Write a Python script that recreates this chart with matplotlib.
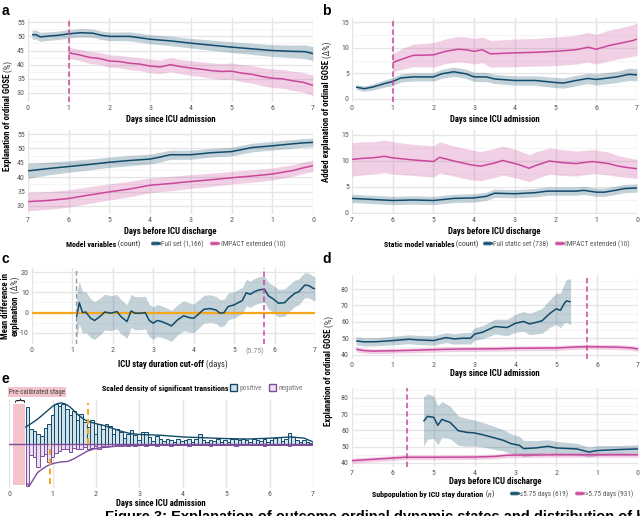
import matplotlib
matplotlib.use('Agg')
import matplotlib.pyplot as plt
import numpy as np
from matplotlib import font_manager as fm
from matplotlib.lines import Line2D
from matplotlib.patches import Patch
from matplotlib.text import Annotation
from matplotlib.transforms import Bbox

W, H = 640, 516
_names = {f.name for f in fm.fontManager.ttflist}
COND = next(n for n in ['Roboto Condensed', 'Archivo Narrow', 'Asap Condensed',
                        'Liberation Sans Narrow', 'Roboto', 'DejaVu Sans'] if n in _names)
plt.rcParams['font.family'] = [COND, 'DejaVu Sans']
plt.rcParams['axes.unicode_minus'] = False

# ---------------- data ----------------
# panel a, top: days since ICU admission
a1_full_x = [0.1, 0.2, 0.3, 0.5, 0.75, 1.0, 1.3, 1.6, 1.8, 2.0, 2.5, 3.0, 3.5, 4.0, 4.5, 5.0, 5.5, 6.0, 6.5, 6.8, 7.0]
a1_full_y = [50.6, 50.6, 49.8, 50.1, 50.4, 50.9, 51.3, 51.1, 50.4, 50.0, 50.0, 49.0, 48.4, 47.6, 46.9, 46.2, 45.6, 45.0, 44.7, 44.6, 43.9]
a1_full_hw = [1.6, 1.6, 1.6, 1.5, 1.5, 1.5, 1.5, 1.5, 1.5, 1.5, 1.6, 1.6, 1.7, 1.7, 1.8, 1.9, 2.0, 2.1, 2.2, 2.4, 2.5]
a1_imp_x = [1.0, 1.25, 1.5, 1.75, 2.0, 2.25, 2.5, 2.75, 3.0, 3.25, 3.5, 3.75, 4.0, 4.25, 4.5, 4.75, 5.0, 5.25, 5.5, 5.75, 6.0, 6.25, 6.5, 6.75, 7.0]
a1_imp_y = [44.2, 43.5, 42.6, 42.2, 41.3, 41.1, 40.5, 40.2, 39.5, 39.2, 40.0, 39.3, 38.8, 38.4, 37.9, 37.6, 37.7, 37.0, 36.6, 35.8, 35.2, 35.0, 34.3, 33.8, 32.7]
a1_imp_hw = [2.0, 2.0, 2.1, 2.1, 2.2, 2.2, 2.3, 2.3, 2.4, 2.4, 2.5, 2.5, 2.6, 2.6, 2.7, 2.8, 2.9, 3.0, 3.1, 3.2, 3.3, 3.3, 3.4, 3.5, 3.6]
# panel a, bottom: days before ICU discharge
a2_full_x = [7.0, 6.75, 6.5, 6.0, 5.5, 5.0, 4.5, 4.0, 3.75, 3.5, 3.0, 2.5, 2.0, 1.75, 1.5, 1.0, 0.5, 0.25, 0.0]
a2_full_y = [42.2, 42.6, 43.0, 43.7, 44.4, 45.2, 45.8, 46.3, 47.0, 47.8, 47.8, 48.5, 48.9, 49.6, 50.3, 50.9, 51.6, 51.9, 52.1]
a2_full_hw = [2.6, 2.4, 2.2, 2.0, 1.9, 1.8, 1.8, 1.7, 1.7, 1.6, 1.6, 1.5, 1.5, 1.5, 1.5, 1.5, 1.5, 1.5, 1.5]
a2_imp_x = [7.0, 6.5, 6.0, 5.5, 5.0, 4.5, 4.0, 3.5, 3.0, 2.5, 2.0, 1.5, 1.0, 0.5, 0.25, 0.0]
a2_imp_y = [31.5, 31.9, 32.6, 33.8, 34.9, 35.9, 37.2, 37.8, 38.5, 39.1, 39.8, 40.4, 41.1, 42.3, 43.2, 44.0]
a2_imp_hw = [3.2, 3.1, 3.0, 2.9, 2.8, 2.7, 2.6, 2.5, 2.4, 2.3, 2.2, 2.2, 2.1, 2.0, 2.0, 2.0]

# panel b, top
b1_full_x = [0.1, 0.3, 0.5, 0.8, 1.0, 1.2, 1.5, 2.0, 2.2, 2.5, 2.8, 3.0, 3.3, 3.5, 4.0, 4.5, 5.0, 5.2, 5.5, 5.8, 6.0, 6.5, 6.8, 7.0]
b1_full_y = [2.3, 2.0, 2.3, 3.0, 3.4, 4.1, 4.3, 4.3, 4.9, 5.3, 4.9, 4.3, 4.3, 3.9, 3.6, 3.6, 3.2, 3.1, 3.6, 4.0, 3.8, 4.3, 4.8, 4.7]
b1_full_hw = [0.5, 0.5, 0.6, 0.7, 0.8, 0.8, 0.8, 0.8, 0.9, 0.9, 0.9, 0.9, 0.9, 0.9, 0.9, 0.9, 1.0, 1.0, 1.0, 1.0, 1.1, 1.1, 1.2, 1.2]
b1_imp_x = [1.0, 1.2, 1.5, 2.0, 2.3, 2.6, 2.8, 3.0, 3.2, 3.4, 4.0, 4.5, 5.0, 5.5, 5.8, 6.0, 6.3, 6.6, 6.9, 7.0]
b1_imp_y = [7.1, 7.7, 8.5, 8.6, 9.3, 9.7, 9.6, 9.3, 9.6, 8.8, 9.0, 9.1, 9.3, 9.6, 10.1, 9.7, 10.4, 10.9, 11.4, 11.7]
b1_imp_hw = [1.8, 2.0, 2.2, 2.4, 2.4, 2.5, 2.5, 2.5, 2.5, 2.6, 2.7, 2.7, 2.8, 2.8, 2.9, 2.9, 3.0, 3.0, 3.1, 3.2]
# panel b, bottom
b2_full_x = [7.0, 6.5, 6.0, 5.5, 5.0, 4.5, 4.0, 3.7, 3.5, 3.0, 2.5, 2.2, 2.0, 1.5, 1.3, 1.0, 0.8, 0.5, 0.3, 0.0]
b2_full_y = [2.8, 2.6, 2.4, 2.5, 2.4, 2.8, 2.9, 3.2, 3.8, 3.7, 3.9, 4.2, 4.2, 4.2, 4.35, 4.0, 4.0, 4.4, 4.7, 4.8]
b2_full_hw = [0.8, 0.8, 0.8, 0.8, 0.8, 0.8, 0.8, 0.8, 0.8, 0.8, 0.8, 0.8, 0.8, 0.8, 0.8, 0.8, 0.8, 0.8, 0.8, 0.8]
b2_imp_x = [7.0, 6.75, 6.5, 6.2, 6.0, 5.5, 5.0, 4.85, 4.5, 4.1, 3.85, 3.5, 3.3, 2.9, 2.65, 2.5, 2.15, 1.85, 1.5, 1.1, 0.7, 0.45, 0.2, 0.0]
b2_imp_y = [10.3, 10.5, 10.6, 10.9, 10.6, 10.2, 9.9, 10.7, 10.0, 9.3, 9.0, 9.6, 10.1, 9.3, 8.6, 9.1, 10.0, 9.7, 9.5, 9.9, 9.5, 9.0, 8.7, 8.5]
b2_imp_hw = [3.2, 3.2, 3.1, 3.1, 3.1, 3.0, 3.0, 3.0, 2.9, 2.9, 2.8, 2.8, 2.8, 2.7, 2.6, 2.6, 2.5, 2.5, 2.4, 2.3, 2.2, 2.0, 1.9, 1.8]

# panel c: mean difference by ICU stay cut-off
c_x = [1.1, 1.17, 1.25, 1.33, 1.45, 1.55, 1.7, 1.8, 1.95, 2.1, 2.2, 2.35, 2.45, 2.55, 2.7, 2.8, 2.9, 3.0, 3.1, 3.2,
       3.35, 3.45, 3.6, 3.75, 3.9, 4.0, 4.1, 4.25, 4.4, 4.55, 4.65, 4.75, 4.85, 5.0, 5.1, 5.2, 5.3, 5.4, 5.5, 5.6,
       5.75, 5.85, 5.95, 6.1, 6.25, 6.35, 6.5, 6.6, 6.75, 6.85, 6.95, 7.0]
c_y = [-2.3, 4.9, 0.0, 0.3, -2.8, -3.9, -1.6, 0.3, -0.3, 0.5, -2.0, -4.4, 0.8, -0.3, -0.3, 0.0, -3.9, -5.2, -3.9, -4.4,
       -5.6, -6.6, -3.6, -1.6, -2.5, -2.8, -1.1, 1.6, 2.0, 1.3, -0.3, 0.0, 3.0, 3.8, 4.9, 5.9, 9.8, 9.0, 10.3, 11.1,
       11.6, 8.2, 7.0, 4.6, 4.9, 7.0, 9.5, 10.3, 13.6, 13.3, 12.0, 11.8]
c_hw = [11.0, 10.5, 10.2, 10.0, 9.6, 9.3, 9.0, 8.8, 8.6, 8.5, 8.4, 8.3, 8.2, 8.2, 8.1, 8.1, 8.0, 8.0, 7.9, 7.8,
        7.7, 7.6, 7.5, 7.4, 7.2, 7.0, 7.0, 6.9, 6.8, 6.7, 6.7, 6.6, 6.6, 6.5, 6.5, 6.5, 6.5, 6.5, 6.5, 6.5,
        6.5, 6.6, 6.7, 6.8, 6.7, 6.6, 6.5, 6.4, 6.2, 6.1, 6.0, 6.0]
c_cutoff_min = 1.1
c_cutoff_opt = 5.75

# panel d, top
d1_short_x = [0.1, 0.3, 0.6, 1.0, 1.4, 1.6, 2.0, 2.3, 2.5, 2.7, 2.9, 3.0, 3.2, 3.5, 3.8, 4.0, 4.2, 4.35, 4.5, 4.65, 4.85, 5.0, 5.1, 5.2, 5.25, 5.35]
d1_short_y = [48.5, 47.9, 48.0, 48.7, 49.5, 49.1, 48.7, 50.5, 49.7, 50.1, 50.1, 52.6, 53.8, 57.2, 56.6, 59.2, 60.3, 58.8, 59.7, 60.7, 65.3, 68.0, 67.0, 71.4, 72.8, 72.2]
d1_short_hw = [2.5, 2.5, 2.5, 2.6, 2.7, 2.8, 2.9, 3.0, 3.2, 3.4, 3.6, 3.8, 4.0, 4.5, 5.0, 5.5, 6.0, 6.5, 7.0, 7.5, 8.5, 9.5, 10.5, 12.0, 13.0, 14.0]
d1_long_x = [0.1, 0.3, 0.5, 1.0, 1.5, 2.0, 2.5, 3.0, 3.5, 4.0, 4.5, 5.0, 5.5, 5.75, 6.0, 6.5, 6.8, 7.0]
d1_long_y = [43.4, 42.6, 42.3, 42.5, 42.8, 43.2, 43.5, 43.6, 43.7, 44.0, 44.1, 44.2, 44.8, 45.0, 44.9, 44.7, 44.3, 43.6]
d1_long_hw = [1.5] * 18
# panel d, bottom
d2_short_x = [5.25, 5.15, 5.0, 4.9, 4.8, 4.6, 4.4, 4.2, 4.0, 3.8, 3.5, 3.3, 3.1, 2.9, 2.8, 2.5, 2.2, 2.0, 1.5, 1.2, 1.0, 0.5, 0.0]
d2_short_y = [65.5, 68.6, 68.0, 63.1, 66.7, 64.9, 59.8, 58.8, 58.4, 57.3, 55.3, 53.9, 51.8, 50.8, 48.8, 49.2, 50.2, 49.2, 48.6, 46.7, 47.6, 48.2, 48.6]
d2_short_hw = [15, 14, 13, 12, 11, 10, 9, 8.5, 8, 7.5, 7, 6.5, 6, 5.5, 5, 4.5, 4, 4, 3.5, 3, 3, 2.5, 2.5]
d2_long_x = [7.0, 6.5, 6.0, 5.7, 5.0, 4.0, 3.5, 3.2, 3.0, 2.0, 1.0, 0.0]
d2_long_y = [41.4, 42.2, 43.0, 43.5, 43.5, 43.6, 44.0, 44.7, 44.8, 45.0, 45.0, 45.0]
d2_long_hw = [1.5] * 12
d1_cut = 5.75
d2_cut = 5.65

# panel e: scaled density of significant transitions
e_bin_start = 0.375
e_pos = [0.9, 0.36, 0.33, 0.25, 0.2, 0.4, 0.5, 0.72, 0.98, 0.92,
         0.97, 0.85, 0.7, 0.8, 0.58, 0.74, 0.55, 0.42, 0.58, 0.25,
         0.48, 0.36, 0.5, 0.44, 0.26, 0.38, 0.3, 0.16, 0.26, 0.34,
         0.22, 0.1, 0.3, 0.3, 0.18, 0.08, 0.2, 0.12, 0.08, 0.14,
         0.1, 0.06, 0.12, 0.08, 0.1, 0.12, 0.07, 0.14, 0.26, 0.1,
         0.06, 0.1, 0.08, 0.12, 0.05, 0.1, 0.06, 0.12, 0.14, 0.1,
         0.12, 0.1, 0.06, 0.12, 0.1, 0.08, 0.12, 0.06, 0.1, 0.16,
         0.18, 0.08, 0.12, 0.28, 0.18, 0.1, 0.06, 0.1, 0.06, 0.04]
e_neg = [-1.0, -0.25, -0.3, -0.55, -0.28, -0.22, -0.42, -0.3, -0.2, -0.15,
         -0.1, -0.12, -0.18, -0.08, -0.1, -0.12, -0.06, -0.1, -0.08, -0.05,
         -0.1, -0.04, -0.06, -0.03, -0.03, -0.02, -0.04, -0.02, -0.03, -0.02,
         -0.03, -0.02, -0.02, -0.03, -0.02, -0.02, -0.03, -0.02, -0.02, -0.02,
         -0.03, -0.02, -0.02, -0.02, -0.02, -0.03, -0.02, -0.02, -0.02, -0.02,
         -0.02, -0.03, -0.02, -0.02, -0.02, -0.02, -0.02, -0.02, -0.03, -0.02,
         -0.02, -0.02, -0.02, -0.02, -0.02, -0.02, -0.03, -0.02, -0.02, -0.02,
         -0.02, -0.02, -0.02, -0.03, -0.02, -0.02, -0.02, -0.02, -0.02, -0.02]
e_pos_curve_x = [0.38, 0.5, 0.6, 0.7, 0.8, 0.9, 1.0, 1.1, 1.2, 1.3, 1.4, 1.5, 1.6, 1.7, 1.8, 1.9, 2.0, 2.2, 2.4, 2.6, 2.8, 3.0, 3.5, 4.0, 4.5, 5.0, 5.5, 6.0, 6.5, 6.8, 7.0]
e_pos_curve_y = [0.42, 0.5, 0.57, 0.65, 0.74, 0.83, 0.92, 0.98, 1.0, 0.97, 0.9, 0.8, 0.7, 0.62, 0.56, 0.53, 0.5, 0.45, 0.38, 0.31, 0.26, 0.24, 0.22, 0.18, 0.16, 0.14, 0.13, 0.15, 0.18, 0.15, 0.06]
e_neg_curve_x = [0.42, 0.46, 0.55, 0.65, 0.75, 0.85, 0.95, 1.05, 1.2, 1.35, 1.5, 1.65, 1.8, 1.95, 2.1, 2.3, 2.5, 2.8, 3.2, 4.0, 5.0, 6.0, 7.0]
e_neg_curve_y = [-0.95, -1.0, -0.85, -0.68, -0.6, -0.53, -0.48, -0.45, -0.42, -0.41, -0.34, -0.25, -0.16, -0.11, -0.08, -0.06, -0.04, -0.03, -0.02, -0.02, -0.02, -0.02, -0.01]
e_precal = (0.08, 0.36)
e_median_pos = 1.82
e_median_neg = 0.93

# ---------------- style ----------------
BLUE = '#114b6b'
PINK = '#c8479a'
PURPLE = '#7d4d9b'
ORANGE = '#f5a71c'
TICKC = '#555555'
TICK_FS = 5.7
LAB_FS = 6.3
LEG_T_FS = 5.7
LEG_FS = 5.2

fig = plt.figure(figsize=(6.4, 5.16), dpi=100)


def add_ax(l, t, r, b):
    return fig.add_axes([l / W, 1 - b / H, (r - l) / W, (b - t) / H])


def style(ax, xt, yt, ymin=None, ygrid=True):
    for s in ax.spines.values():
        s.set_visible(False)
    ax.set_xticks(xt)
    if yt is not None:
        ax.set_yticks(yt)
    ax.tick_params(which='both', length=0, labelsize=TICK_FS, labelcolor=TICKC, pad=2.2)
    ax.grid(True, which='major', axis='x', color='#e5e5e5', lw=1.0)
    if ygrid:
        ax.grid(True, which='major', axis='y', color='#e5e5e5', lw=0.9)
    if ymin is not None:
        ax.set_yticks(ymin, minor=True)
        ax.grid(True, which='minor', axis='y', color='#f2f2f2', lw=0.6)
    ax.set_axisbelow(True)


def band(ax, x, y, hw, col):
    x = np.asarray(x, float); y = np.asarray(y, float); hw = np.asarray(hw, float)
    ax.fill_between(x, y - hw, y + hw, color=col, alpha=0.25, lw=0, zorder=1)
    ax.plot(x, y, color=col, lw=1.1, zorder=3, solid_capstyle='butt')


def vdash(ax, x, col, lw=1.1, **kw):
    ax.axvline(x, color=col, lw=lw, ls=(0, (3.5, 2.0)), zorder=4, **kw)


MIXED = []


def mixed(x, y, parts, rot=0, ha='center', va='center'):
    arts = []
    s0, kw0 = parts[0]
    t0 = fig.text(x / W, 1 - y / H, s0, rotation=rot, ha='left', va='bottom', **kw0)
    arts.append(t0)
    prev = t0
    for s, kw in parts[1:]:
        xy = (1, 0) if rot == 0 else (0, 1)
        a = Annotation(s, xy=xy, xycoords=prev, ha='left', va='bottom', rotation=rot,
                       annotation_clip=False, **kw)
        fig.add_artist(a)
        arts.append(a)
        prev = a
    MIXED.append((arts, x, y, ha, va))


def finalize_mixed():
    fig.canvas.draw()
    r = fig.canvas.get_renderer()
    for arts, x, y, ha, va in MIXED:
        bb = Bbox.union([a.get_window_extent(r) for a in arts])
        tx, ty = x, H - y
        cx = {'center': (bb.x0 + bb.x1) / 2, 'left': bb.x0, 'right': bb.x1}[ha]
        cy = {'center': (bb.y0 + bb.y1) / 2, 'bottom': bb.y0, 'top': bb.y1}[va]
        px, py = arts[0].get_position()
        arts[0].set_position((px + (tx - cx) / W, py + (ty - cy) / H))


BOLD = dict(fontsize=LAB_FS, fontweight='bold', color='black')
REG = dict(fontsize=LAB_FS, color='#333333')
LBOLD = dict(fontsize=LEG_T_FS, fontweight='bold', color='black')
LREG = dict(fontsize=LEG_T_FS, color='#333333')


def legend(x_left, y, entries, fs=LEG_FS):
    handles = []
    labels = []
    for lab, col in entries:
        handles.append((Patch(facecolor=col, alpha=0.3, edgecolor='none'),
                        Line2D([], [], color=col, lw=1.8)))
        labels.append(lab)
    lg = fig.legend(handles, labels, loc='center left', bbox_to_anchor=(x_left / W, 1 - y / H),
                    ncol=len(entries), frameon=False, fontsize=fs, handlelength=1.0, handleheight=0.8,
                    handletextpad=0.3, columnspacing=1.0, borderpad=0, borderaxespad=0)
    for t in lg.get_texts():
        t.set_color('#555555')
    return lg


# ---------------- panel a ----------------
ax = add_ax(28, 18, 313, 102)
band(ax, a1_full_x, a1_full_y, a1_full_hw, BLUE)
band(ax, a1_imp_x, a1_imp_y, a1_imp_hw, PINK)
vdash(ax, 1.0, PINK)
ax.set_xlim(0, 7); ax.set_ylim(26.8, 56.5)
style(ax, range(8), [30, 35, 40, 45, 50, 55], [32.5, 37.5, 42.5, 47.5, 52.5])
ax.set_xlabel('Days since ICU admission', fontsize=LAB_FS, fontweight='bold', labelpad=2.5)

ax = add_ax(28, 130, 313, 214)
band(ax, a2_full_x, a2_full_y, a2_full_hw, BLUE)
band(ax, a2_imp_x, a2_imp_y, a2_imp_hw, PINK)
ax.set_xlim(7, 0); ax.set_ylim(27.2, 56.4)
style(ax, range(8), [30, 35, 40, 45, 50, 55], [32.5, 37.5, 42.5, 47.5, 52.5])
ax.set_xlabel('Days before ICU discharge', fontsize=LAB_FS, fontweight='bold', labelpad=2.5)

mixed(8, 116, [('Explanation of ordinal GOSE', BOLD), (' (%)', REG)], rot=90)
mixed(141, 244, [('Model variables', LBOLD), (' (count)', LREG)], ha='right')
legend(152, 244, [('Full set (1,166)', BLUE), ('IMPACT extended (10)', PINK)])

# ---------------- panel b ----------------
ax = add_ax(352, 18, 637, 102)
band(ax, b1_full_x, b1_full_y, b1_full_hw, BLUE)
band(ax, b1_imp_x, b1_imp_y, b1_imp_hw, PINK)
vdash(ax, 1.0, PINK)
ax.set_xlim(0, 7); ax.set_ylim(-0.6, 15.8)
style(ax, range(8), [0, 5, 10, 15], [2.5, 7.5, 12.5])
ax.set_xlabel('Days since ICU admission', fontsize=LAB_FS, fontweight='bold', labelpad=2.5)

ax = add_ax(352, 130, 637, 214)
band(ax, b2_full_x, b2_full_y, b2_full_hw, BLUE)
band(ax, b2_imp_x, b2_imp_y, b2_imp_hw, PINK)
ax.set_xlim(7, 0); ax.set_ylim(-0.2, 15.96)
style(ax, range(8), [0, 5, 10, 15], [2.5, 7.5, 12.5])
ax.set_xlabel('Days before ICU discharge', fontsize=LAB_FS, fontweight='bold', labelpad=2.5)

mixed(327, 112, [('Added explanation of ordinal GOSE', BOLD), (' (\u0394%)', REG)], rot=90)
mixed(479, 244, [('Static model variables', LBOLD), (' (count)', LREG)], ha='right')
legend(484, 244, [('Full static set (738)', BLUE), ('IMPACT extended (10)', PINK)])

# ---------------- panel c ----------------
ax = add_ax(32, 268, 315, 344)
ax.axhline(0, color=ORANGE, lw=1.6, zorder=2)
band(ax, c_x, c_y, c_hw, BLUE)
vdash(ax, c_cutoff_min, '#9a9a9a', lw=1.0)
vdash(ax, c_cutoff_opt, PINK)
ax.set_xlim(0, 7); ax.set_ylim(-15.5, 22)
style(ax, range(8), [-10, 0, 10, 20], [-5, 5, 15])
ax.set_xticks([c_cutoff_opt], labels=['(%.2f)' % c_cutoff_opt], minor=True)
ax.tick_params(which='minor', length=0, labelsize=TICK_FS, labelcolor='#8a8a8a', pad=2.2)
for t in ax.get_xticklabels(minor=True):
    t.set_ha('right')
mixed(173, 364, [('ICU stay duration cut-off', BOLD), (' (days)', REG)])
mixed(6, 306, [('Mean difference in', BOLD)], rot=90)
mixed(15, 306, [('explanation', BOLD), (' (\u0394%)', REG)], rot=90)

# ---------------- panel d ----------------
ax = add_ax(352, 275, 638, 359)
band(ax, d1_short_x, d1_short_y, d1_short_hw, BLUE)
band(ax, d1_long_x, d1_long_y, d1_long_hw, PINK)
vdash(ax, d1_cut, PINK)
ax.set_xlim(0, 7); ax.set_ylim(37.5, 88.5)
style(ax, range(8), [40, 50, 60, 70, 80], [45, 55, 65, 75, 85])
ax.set_xlabel('Days since ICU admission', fontsize=LAB_FS, fontweight='bold', labelpad=1.0)

ax = add_ax(352, 388, 638, 467)
band(ax, d2_short_x, d2_short_y, d2_short_hw, BLUE)
band(ax, d2_long_x, d2_long_y, d2_long_hw, PINK)
vdash(ax, d2_cut, PINK)
ax.set_xlim(7, 0); ax.set_ylim(37.5, 86)
style(ax, range(8), [40, 50, 60, 70, 80], [45, 55, 65, 75, 85])
ax.set_xlabel('Days before ICU discharge', fontsize=LAB_FS, fontweight='bold', labelpad=1.0)

mixed(329, 371, [('Explanation of ordinal GOSE', BOLD), (' (%)', REG)], rot=90)
mixed(494, 494, [('Subpopulation by ICU stay duration', LBOLD), (' (', LREG),
                 ('n', dict(LREG, fontstyle='italic')), (')', LREG)], ha='right')
legend(511, 494, [('\u22645.75 days (619)', BLUE), ('>5.75 days (931)', PINK)])

# ---------------- panel e ----------------
ax = add_ax(9.3, 400, 313, 488)
n = len(e_pos)
w = (7.0 - e_bin_start) / n
centers = e_bin_start + w * (np.arange(n) + 0.5)
ax.axvspan(e_precal[0], e_precal[1], ymin=0.03, ymax=0.955, color='#f4c3cb', lw=0, zorder=0.5)
ax.bar(centers, e_pos, width=w, facecolor='#d3e2e8', edgecolor=BLUE, lw=0.7, zorder=2)
ax.bar(centers, e_neg, width=w, facecolor='#ebe0f0', edgecolor=PURPLE, lw=0.7, zorder=2)
ax.axhline(0, color=PURPLE, lw=1.0, zorder=2.5)
ax.plot(e_pos_curve_x, e_pos_curve_y, color=BLUE, lw=1.0, zorder=3)
ax.plot(e_neg_curve_x, e_neg_curve_y, color=PURPLE, lw=1.0, zorder=3)
ax.plot([e_median_pos, e_median_pos], [0, 1.0], color=ORANGE, lw=1.4, ls=(0, (3, 2)), zorder=4)
ax.plot([e_median_neg, e_median_neg], [-0.95, 0], color=ORANGE, lw=1.4, ls=(0, (3, 2)), zorder=4)
ax.set_xlim(0, 7); ax.set_ylim(-1.05, 1.07)
style(ax, range(8), None, ygrid=False)
ax.set_yticks([])
ax.set_xlabel('Days since ICU admission', fontsize=LAB_FS, fontweight='bold', labelpad=1.5)
ax.text(sum(e_precal) / 2, 1.06, '{', rotation=-90, ha='center', va='center', fontsize=8,
        fontfamily='DejaVu Sans', color='black', clip_on=False)
fig.text(37 / W, 1 - 392 / H, 'Pre-calibrated stage', ha='center', va='center', fontsize=5.0,
         color='#444444', bbox=dict(boxstyle='square,pad=0.15', fc='#f4c3cb', ec='none'))
mixed(228, 388, [('Scaled density of significant transitions', LBOLD)], ha='right')
lg = fig.legend([Patch(facecolor='#d3e2e8', edgecolor=BLUE, lw=1.0),
                 Patch(facecolor='#ebe0f0', edgecolor=PURPLE, lw=1.0)],
                ['positive', 'negative'], loc='center left', bbox_to_anchor=(230 / W, 1 - 388 / H),
                ncol=2, frameon=False, fontsize=LEG_FS, handlelength=1.0, handleheight=1.0,
                handletextpad=0.3, columnspacing=1.0, borderpad=0, borderaxespad=0)
for t in lg.get_texts():
    t.set_color('#777777')

# ---------------- panel letters & caption ----------------
for lab, x, y in [('a', 2, 11), ('b', 322, 11), ('c', 2, 259), ('d', 322, 259), ('e', 2, 379)]:
    fig.text(x / W, 1 - y / H, lab, fontsize=10, fontweight='bold', fontfamily='Liberation Sans',
             ha='left', va='center')
fig.text(105 / W, 1 - 510 / H,
         'Figure 3: Explanation of outcome ordinal dynamic states and distribution of high-impact results',
         fontsize=10.5, fontweight='bold', fontfamily='Liberation Sans', ha='left', va='top')

finalize_mixed()
fig.savefig('out.png', dpi=100)
